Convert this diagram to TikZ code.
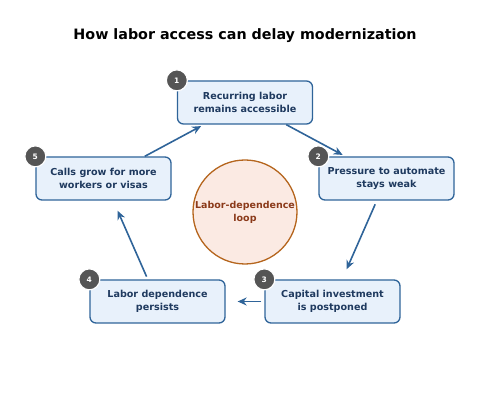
\documentclass[tikz,border=0pt]{standalone}
\usepackage{fontspec}
\setmainfont{DejaVu Sans}
\usetikzlibrary{arrows.meta}
\definecolor{boxfill}{HTML}{E8F1FB}
\definecolor{boxline}{HTML}{2F6499}
\definecolor{boxtext}{HTML}{1F3A5F}
\definecolor{circfill}{HTML}{FBEAE3}
\definecolor{circline}{HTML}{B5651D}
\definecolor{circtext}{HTML}{8B3A1A}
\definecolor{badgefill}{HTML}{555555}
\tikzset{
  stepbox/.style={draw=boxline, fill=boxfill, line width=1.3pt, rounded corners=6pt,
    minimum width=135pt, minimum height=43pt, inner sep=0pt, align=center,
    text=boxtext, font=\fontsize{9.6}{13}\selectfont\bfseries},
  badge/.style={circle, fill=badgefill, draw=white, line width=1.2pt, minimum size=21pt,
    inner sep=0pt, text=white, font=\fontsize{7.5}{8}\selectfont\bfseries},
  flow/.style={draw=boxline, line width=1.6pt, -{Stealth[length=9pt,width=8pt]}},
}
\begin{document}
\begin{tikzpicture}[x=1pt,y=-1pt]
\useasboundingbox (0,0) rectangle (491,406);
\node[font=\fontsize{14.3}{16}\selectfont\bfseries] (title) at (245,36) {How labor access can delay modernization};
\node[circle, draw=circline, fill=circfill, line width=1.3pt, minimum size=104pt, inner sep=0pt,
  align=center, text=circtext, font=\fontsize{9.5}{13}\selectfont\bfseries] (hub) at (245,212) {Labor-dependence\\loop};
\node[stepbox] (b1) at (245,102.5) {Recurring labor\\remains accessible};
\node[stepbox] (b2) at (386.5,178.5) {Pressure to automate\\stays weak};
\node[stepbox] (b3) at (332.5,301.5) {Capital investment\\is postponed};
\node[stepbox] (b4) at (157.5,301.5) {Labor dependence\\persists};
\node[stepbox] (b5) at (103.5,178.5) {Calls grow for more\\workers or visas};
\node[badge] (n1) at (b1.north west) {1};
\node[badge] (n2) at (b2.north west) {2};
\node[badge] (n3) at (b3.north west) {3};
\node[badge] (n4) at (b4.north west) {4};
\node[badge] (n5) at (b5.north west) {5};
\draw[flow, shorten <=0pt, shorten >=3pt] (b1) -- (b2);
\draw[flow, shorten <=4pt, shorten >=11pt] (b2) -- (b3);
\draw[flow, shorten <=3pt, shorten >=12pt] (b3) -- (b4);
\draw[flow, shorten <=3pt, shorten >=11pt] (b4) -- (b5);
\draw[flow, shorten <=0pt, shorten >=3pt] (b5) -- (b1);
\end{tikzpicture}
\end{document}
